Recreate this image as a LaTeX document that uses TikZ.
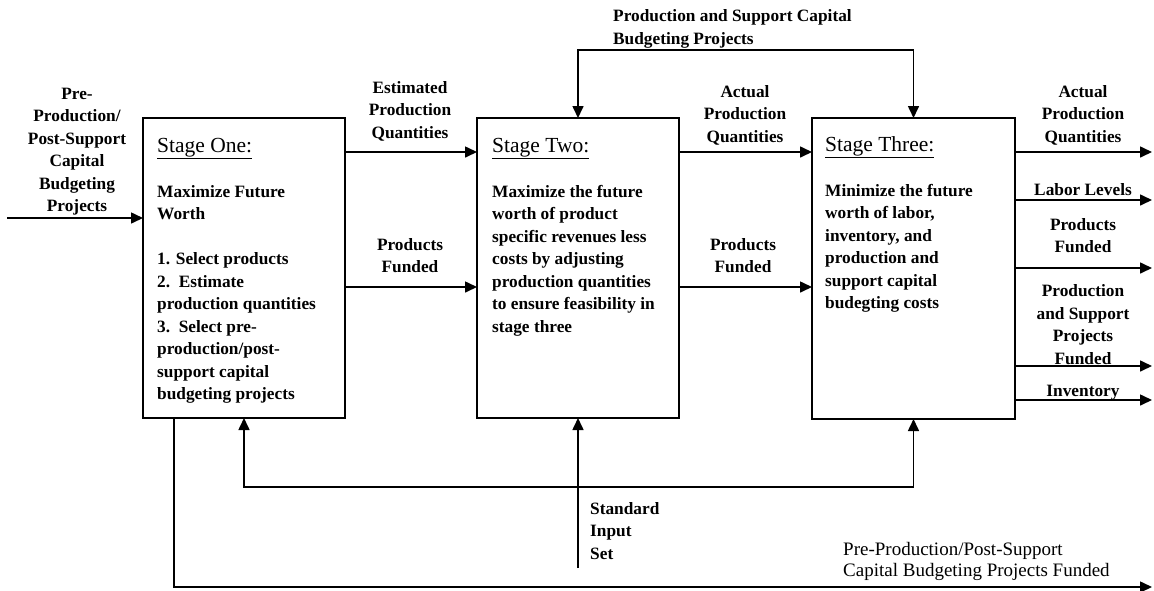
\documentclass[tikz,border=0pt]{standalone}
\usepackage{fontspec}
\setmainfont{Liberation Serif}
\usetikzlibrary{arrows.meta}
\newcommand\mystrut{\rule{0pt}{16pt}}
\tikzset{
  stagebox/.style={draw, line width=1.6pt, inner sep=0pt, outer sep=0pt},
  ln/.style={line width=1.6pt},
  arr/.style={ln, -{Triangle[length=12pt,width=11pt]}},
  arrboth/.style={ln, {Triangle[length=12pt,width=11pt]}-{Triangle[length=12pt,width=11pt]}},
  lab/.style={font=\bfseries\fontsize{17.3}{22.5}\selectfont, align=center, inner sep=0pt, anchor=north},
  labl/.style={font=\bfseries\fontsize{17.3}{22.5}\selectfont, align=left, inner sep=0pt, anchor=north west},
  labreg/.style={font=\fontsize{19}{21.7}\selectfont, align=left, inner sep=0pt, anchor=north west},
  title/.style={font=\fontsize{21.5}{24}\selectfont, inner sep=0pt, anchor=base west},
  body/.style={font=\bfseries\fontsize{17.3}{22.5}\selectfont, align=left, inner sep=0pt, anchor=north west}
}
\begin{document}
\begin{tikzpicture}[x=1pt,y=-1pt]
\useasboundingbox (0,0) rectangle (1154,590);
% stage boxes
\node[stagebox, minimum width=202pt, minimum height=300pt] (s1) at (244,268) {};
\node[stagebox, minimum width=202pt, minimum height=300pt] (s2) at (578,268) {};
\node[stagebox, minimum width=203pt, minimum height=301pt] (s3) at (913.5,268.5) {};
% stage texts
\node[title] (t1) at (157,152) {\underline{Stage One:}};
\node[title] (t2) at (492,152) {\underline{Stage Two:}};
\node[title] (t3) at (825,151) {\underline{Stage Three:}};
\node[body] (b1) at (157,181) {\mystrut Maximize Future\\Worth\\[22.5pt]1. Select products\\2.~~Estimate\\production quantities\\3.~~Select pre-\\production/post-\\support capital\\budgeting projects};
\node[body] (b2) at (492,181) {\mystrut Maximize the future\\worth of product\\specific revenues less\\costs by adjusting\\production quantities\\to ensure feasibility in\\stage three};
\node[body] (b3) at (825,180) {\mystrut Minimize the future\\worth of labor,\\inventory, and\\production and\\support capital\\budegting costs};
% coordinates
\coordinate (inL) at (7,218);
\coordinate (top) at (0,50);
\coordinate (fb) at (0,487);
\coordinate (sis) at (578,568);
\coordinate (bl) at (1152,587);
\coordinate (r1) at (1152,152);
\coordinate (r2) at (1152,200);
\coordinate (r3) at (1152,268);
\coordinate (r4) at (1152,366);
\coordinate (r5) at (1152,400);
% connectors
\draw[arr] (inL) -- (s1.west |- inL);
\draw[arr] (s1.east |- 0,152) -- (s2.west |- 0,152);
\draw[arr] (s1.east |- 0,287) -- (s2.west |- 0,287);
\draw[arr] (s2.east |- 0,152) -- (s3.west |- 0,152);
\draw[arr] (s2.east |- 0,287) -- (s3.west |- 0,287);
\draw[arrboth] (s2.north) -- (s2.north |- top) -- (s3.north |- top) -- (s3.north);
\draw[arrboth] (s1.south) -- (s1.south |- fb) -- (s3.south |- fb) -- (s3.south);
\draw[arr] (sis) -- (s2.south);
\draw[arr] ([xshift=-70pt]s1.south) |- (bl);
\draw[arr] (s3.east |- r1) -- (r1);
\draw[arr] (s3.east |- r2) -- (r2);
\draw[arr] (s3.east |- r3) -- (r3);
\draw[arr] (s3.east |- r4) -- (r4);
\draw[arr] (s3.east |- r5) -- (r5);
% labels
\node[lab] (lin) at (77,83) {\mystrut Pre-\\Production/\\Post-Support\\Capital\\Budgeting\\Projects};
\node[lab] (lepq) at (410,77) {\mystrut Estimated\\Production\\Quantities};
\node[lab] (lpf1) at (410,234) {\mystrut Products\\Funded};
\node[lab] (lapq) at (745,81) {\mystrut Actual\\Production\\Quantities};
\node[lab] (lpf2) at (743,234) {\mystrut Products\\Funded};
\node[lab] (ro1) at (1083,81) {\mystrut Actual\\Production\\Quantities};
\node[lab] (ro2) at (1083,179) {\mystrut Labor Levels};
\node[lab] (ro3) at (1083,214) {\mystrut Products\\Funded};
\node[lab] (ro4) at (1083,280.5) {\mystrut Production\\and Support\\Projects\\Funded};
\node[lab] (ro5) at (1083,380) {\mystrut Inventory};
\node[labl] (ltop) at (613,5.5) {\mystrut Production and Support Capital\\Budgeting Projects};
\node[labl] (lsis) at (590,498) {\mystrut Standard\\Input\\Set};
\node[labreg] (lbot) at (843,539) {\mystrut Pre-Production/Post-Support\\Capital Budgeting Projects Funded};
\end{tikzpicture}
\end{document}
